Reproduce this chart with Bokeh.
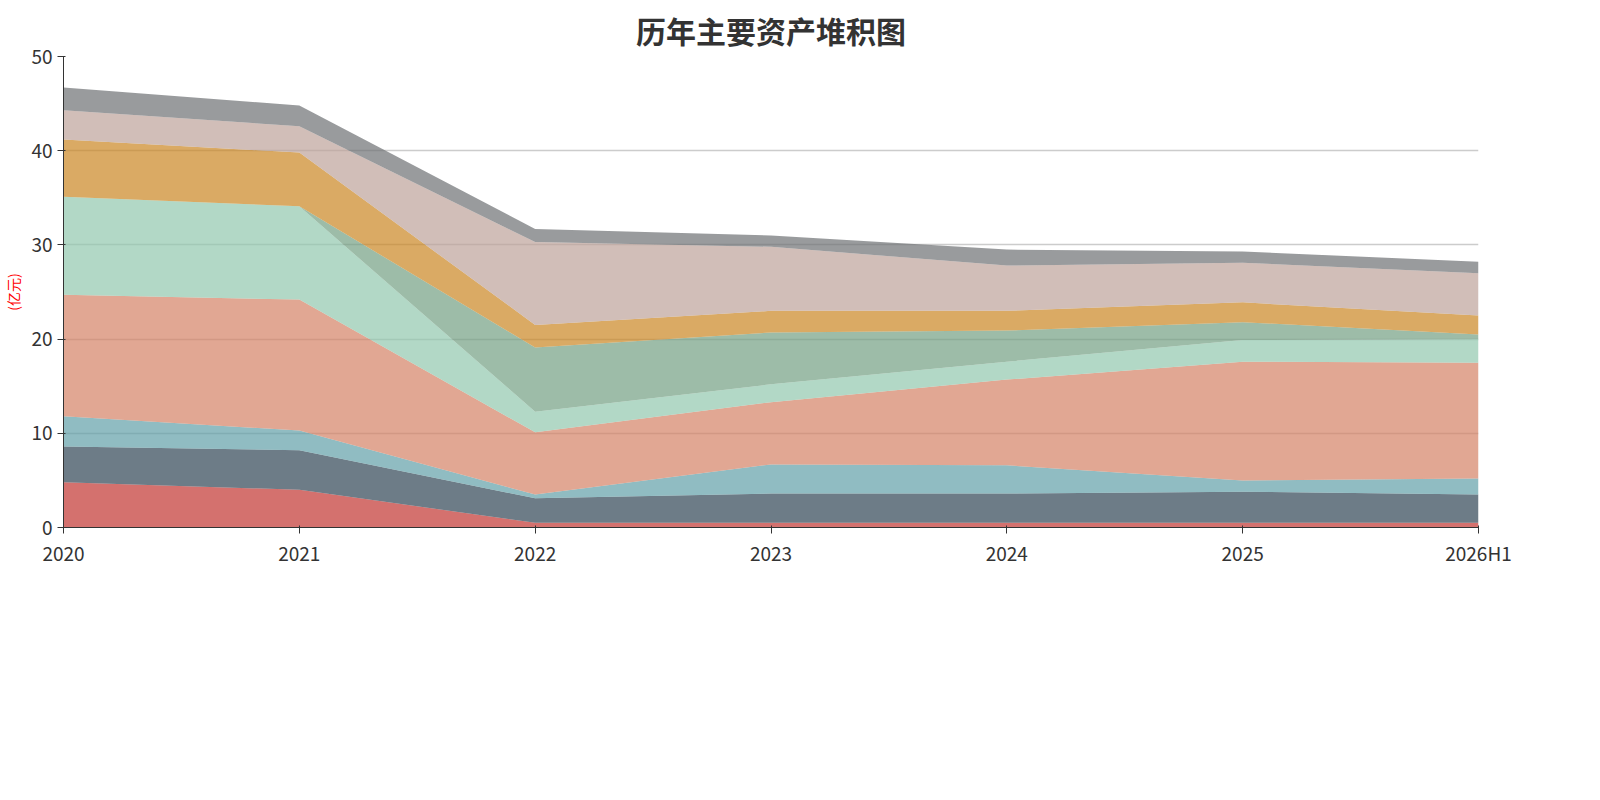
import numpy as np
from bokeh.plotting import figure
from bokeh.models import Legend, LegendItem, Range1d, FixedTicker, ColumnDataSource, Title
from bokeh.embed import file_html
from bokeh.resources import INLINE

years = ["2020", "2021", "2022", "2023", "2024", "2025", "2026H1"]
names = ["商誉", "无形资产", "在建工程合计", "固定资产", "存货", "交易性金融资产合计", "应收票据及应收账款", "货币资金", "其他资产"]
colors = ["#c23531", "#2f4554", "#61a0a8", "#d48265", "#91c7ae", "#749f83", "#ca8622", "#bda29a", "#6e7074"]
# cumulative tops
tops = [
    [4.8, 4.0, 0.5, 0.5, 0.5, 0.5, 0.5],
    [8.6, 8.2, 3.1, 3.6, 3.6, 3.8, 3.5],
    [11.8, 10.3, 3.5, 6.7, 6.6, 5.0, 5.2],
    [24.7, 24.2, 10.1, 13.3, 15.7, 17.6, 17.5],
    [35.1, 34.1, 12.3, 15.2, 17.6, 19.9, 20.0],
    [35.1, 34.1, 19.1, 20.7, 20.9, 21.8, 20.5],
    [41.2, 39.8, 21.5, 23.0, 23.0, 23.9, 22.5],
    [44.3, 42.6, 30.3, 29.8, 27.8, 28.1, 27.0],
    [46.7, 44.8, 31.7, 31.0, 29.5, 29.3, 28.2],
]

x = list(range(len(years)))
p = figure(width=1584, height=784, frame_width=1415, frame_height=471,
           output_backend="svg", toolbar_location=None,
           x_range=Range1d(0, 6), y_range=Range1d(0, 50),
           min_border_left=20, min_border_right=70, min_border_top=50, min_border_bottom=0)
p.title = Title(text="历年主要资产堆积图", align="center", text_font_size="30px",
                text_font="Noto Sans CJK SC", text_color="#333333")
p.outline_line_color = None
prev = [0] * 7
for i, n in enumerate(names):
    p.varea(x=x, y1=prev, y2=tops[i], fill_color=colors[i], fill_alpha=0.7)
    prev = tops[i]

p.xaxis.ticker = FixedTicker(ticks=x)
p.xaxis.major_label_overrides = {i: y for i, y in enumerate(years)}
p.yaxis.ticker = FixedTicker(ticks=[0, 10, 20, 30, 40, 50])
for ax in (p.xaxis, p.yaxis):
    ax.major_label_text_font_size = "19px"
    ax.major_label_text_color = "#333333"
    ax.major_label_text_font = "Noto Sans CJK SC"
    ax.axis_line_color = "#333333"
    ax.major_tick_line_color = "#333333"
    ax.minor_tick_line_color = None
p.yaxis.axis_label = "(亿元)"
p.yaxis.axis_label_text_color = "red"
p.yaxis.axis_label_text_font_size = "14px"
p.yaxis.axis_label_text_font_style = "normal"
p.yaxis.axis_label_text_font = "Noto Sans CJK SC"
p.xgrid.grid_line_color = None
p.ygrid.grid_line_color = "#cccccc"
p.ygrid.grid_line_width = 1.3

items = []
for i in range(8):
    src = ColumnDataSource(dict(x=[np.nan], y=[np.nan]))
    lr = p.line("x", "y", source=src, line_color=colors[i], line_width=2)
    sr = p.scatter("x", "y", source=src, size=20, fill_color=colors[i], line_color=colors[i])
    items.append(LegendItem(label=names[i] if i < 7 else "", renderers=[lr, sr]))
src = ColumnDataSource(dict(x=[np.nan], y=[np.nan]))
pr = p.scatter("x", "y", source=src, marker="triangle", size=1, fill_alpha=0, line_alpha=0)
items.append(LegendItem(label="◀  1/2  ▶", renderers=[pr]))
leg = Legend(items=items, orientation="horizontal", location="left", glyph_width=50, glyph_height=24,
             label_text_font_size="19px", label_text_font="Noto Sans CJK SC", label_text_color="#333333",
             spacing=18, border_line_color=None, margin=85, padding=0, background_fill_alpha=0)
p.add_layout(leg, "below")
p.add_layout(Title(text="制图数据来自恒生聚源数据库", align="center", text_color="#c89a2c",
                   text_font_size="15px", text_font="Noto Sans CJK SC", text_font_style="normal"), "below")

open("out.html", "w").write(file_html(p, INLINE))
